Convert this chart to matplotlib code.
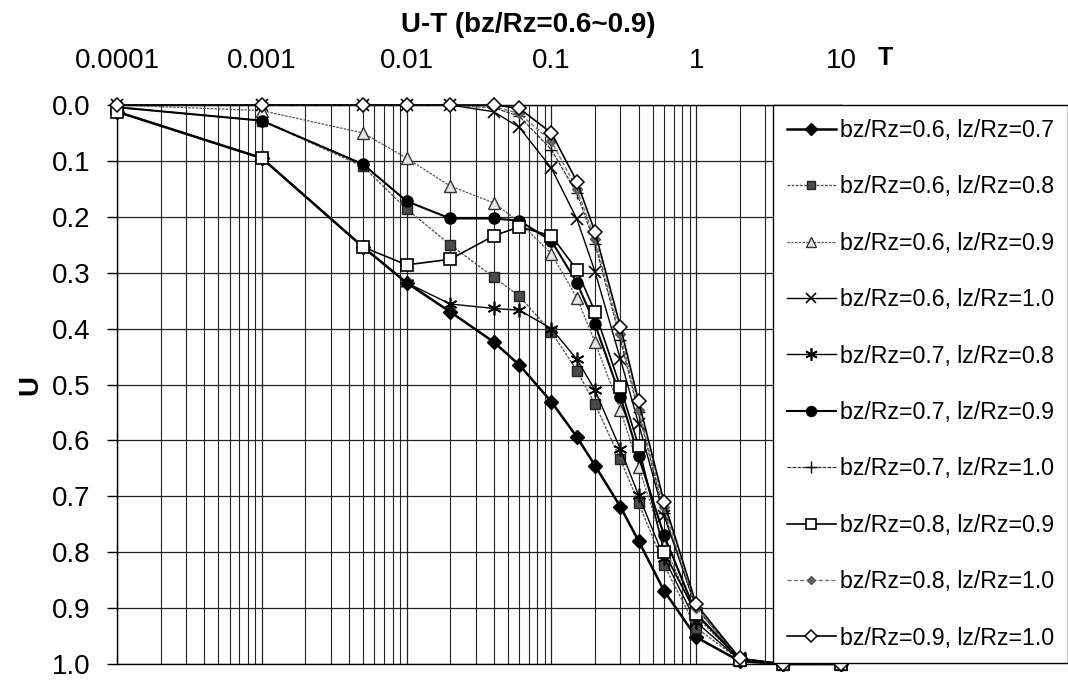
import matplotlib
matplotlib.use("Agg")
import matplotlib.pyplot as plt
from matplotlib.ticker import LogLocator, FuncFormatter, MultipleLocator, NullFormatter

plt.rcParams['font.family'] = ['Liberation Sans', 'DejaVu Sans']

# Time factor T (log axis) and degree of consolidation U for each case
T = [0.0001, 0.001, 0.005, 0.01, 0.02, 0.04, 0.06, 0.1, 0.15, 0.2,
     0.3, 0.4, 0.6, 1, 2, 4, 10]

u_b06_l07 = [0.012, 0.095, 0.254, 0.318, 0.370, 0.424, 0.465, 0.531, 0.594, 0.645,
             0.719, 0.780, 0.869, 0.952, 0.995, 1.0, 1.0]
u_b06_l08 = [0.004, 0.028, 0.110, 0.186, 0.250, 0.308, 0.342, 0.406, 0.475, 0.535,
             0.634, 0.712, 0.823, 0.935, 0.993, 1.0, 1.0]
u_b06_l09 = [0.0, 0.010, 0.050, 0.095, 0.145, 0.175, 0.210, 0.266, 0.345, 0.424,
             0.546, 0.647, 0.787, 0.915, 0.993, 1.0, 1.0]
u_b06_l10 = [0.0, 0.0, 0.0, 0.0, 0.0, 0.012, 0.040, 0.113, 0.204, 0.298,
             0.455, 0.570, 0.735, 0.900, 0.990, 1.0, 1.0]
u_b07_l08 = [0.012, 0.095, 0.254, 0.318, 0.356, 0.364, 0.367, 0.400, 0.455, 0.510,
             0.616, 0.698, 0.810, 0.925, 0.993, 1.0, 1.0]
u_b07_l09 = [0.004, 0.028, 0.106, 0.172, 0.203, 0.203, 0.207, 0.243, 0.318, 0.392,
             0.522, 0.628, 0.770, 0.910, 0.992, 1.0, 1.0]
u_b07_l10 = [0.0, 0.0, 0.0, 0.0, 0.0, 0.005, 0.020, 0.080, 0.158, 0.248,
             0.420, 0.550, 0.730, 0.900, 0.990, 1.0, 1.0]
u_b08_l09 = [0.012, 0.095, 0.254, 0.286, 0.276, 0.234, 0.218, 0.234, 0.295, 0.370,
             0.505, 0.610, 0.800, 0.910, 0.992, 1.0, 1.0]
u_b08_l10 = [0.0, 0.0, 0.0, 0.0, 0.0, 0.003, 0.015, 0.065, 0.150, 0.240,
             0.410, 0.545, 0.720, 0.900, 0.990, 1.0, 1.0]
u_b09_l10 = [0.0, 0.0, 0.0, 0.0, 0.0, 0.0, 0.006, 0.050, 0.137, 0.227,
             0.397, 0.530, 0.710, 0.893, 0.990, 1.0, 1.0]

labels = ["bz/Rz=0.6, lz/Rz=0.7", "bz/Rz=0.6, lz/Rz=0.8", "bz/Rz=0.6, lz/Rz=0.9",
          "bz/Rz=0.6, lz/Rz=1.0", "bz/Rz=0.7, lz/Rz=0.8", "bz/Rz=0.7, lz/Rz=0.9",
          "bz/Rz=0.7, lz/Rz=1.0", "bz/Rz=0.8, lz/Rz=0.9", "bz/Rz=0.8, lz/Rz=1.0",
          "bz/Rz=0.9, lz/Rz=1.0"]
series = [u_b06_l07, u_b06_l08, u_b06_l09, u_b06_l10, u_b07_l08,
          u_b07_l09, u_b07_l10, u_b08_l09, u_b08_l10, u_b09_l10]

styles = [
    dict(color='black', lw=1.8, ls='-', marker='D', ms=7, mfc='black', mec='black'),
    dict(color='#555555', lw=1.0, ls=(0, (2, 1)), marker='s', ms=7, mfc='#4a4a4a', mec='#222222'),
    dict(color='#555555', lw=0.9, ls=(0, (2, 1)), marker='^', ms=8, mfc='#e6e6e6', mec='#333333'),
    dict(color='black', lw=1.0, ls='-', marker='x', ms=8, mew=1.2, mec='black'),
    dict(color='black', lw=1.0, ls='-', marker=(6, 2, 0), ms=10, mew=1.2, mec='black'),
    dict(color='black', lw=1.5, ls='-', marker='o', ms=8, mfc='black', mec='black'),
    dict(color='#333333', lw=0.9, ls=(0, (3, 1)), marker='+', ms=9, mew=1.0, mec='black'),
    dict(color='black', lw=1.2, ls='-', marker='s', ms=8, mfc='white', mec='black', mew=1.2),
    dict(color='#777777', lw=1.0, ls=(0, (3, 1.5)), marker='D', ms=5, mfc='#666666', mec='#555555'),
    dict(color='black', lw=1.2, ls='-', marker='D', ms=7, mfc='white', mec='black', mew=1.1),
]

W, H = 1068, 681
fig = plt.figure(figsize=(W / 100, H / 100), dpi=100)
ax = fig.add_axes([117 / W, 1 - 664 / H, (841 - 117) / W, (664 - 105) / H])

for u, lab, st in zip(series, labels, styles):
    ax.plot(T, u, label=lab, clip_on=False, zorder=3, **st)

ax.set_xscale('log')
ax.set_xlim(1e-4, 10)
ax.set_ylim(1.0, 0.0)

ax.xaxis.tick_top()
ax.xaxis.set_major_locator(LogLocator(base=10, numticks=10))
ax.xaxis.set_minor_locator(LogLocator(base=10, subs=range(2, 10), numticks=100))
ax.xaxis.set_major_formatter(FuncFormatter(lambda v, p: f"{v:g}"))
ax.xaxis.set_minor_formatter(NullFormatter())
ax.yaxis.set_major_locator(MultipleLocator(0.1))
ax.yaxis.set_major_formatter(FuncFormatter(lambda v, p: f"{v:.1f}"))

ax.tick_params(axis='x', which='both', length=0, pad=22, labelsize=20)
ax.tick_params(axis='y', which='major', length=7, width=1, direction='out',
               pad=12, labelsize=20)

ax.grid(which='major', axis='both', color='#222222', lw=0.9)
ax.grid(which='minor', axis='x', color='#222222', lw=0.8)
ax.set_axisbelow(True)
for side in ['left', 'top', 'right', 'bottom']:
    ax.spines[side].set_color('black')
    ax.spines[side].set_linewidth(1.0)
ax.spines['bottom'].set_linestyle((0, (2, 1)))

fig.text(30 / W, 1 - 385 / H, 'U', ha='center', va='center', rotation=90,
         fontsize=20, fontweight='bold')
fig.text(528 / W, 1 - 25 / H, 'U-T (bz/Rz=0.6~0.9)', ha='center', va='center',
         fontsize=20, fontweight='bold')
fig.text(885 / W, 1 - 58 / H, 'T', ha='center', va='center',
         fontsize=18, fontweight='bold')

leg = ax.legend(loc='upper left', bbox_to_anchor=(773 / W, 1 - 105 / H),
                bbox_transform=fig.transFigure, borderaxespad=0,
                fontsize=16.7, frameon=True, fancybox=False, framealpha=1,
                edgecolor='black', handlelength=2.1, handletextpad=0.2,
                labelspacing=1.44, borderpad=0.6, markerscale=0.9)
leg.get_frame().set_linewidth(1.0)
leg.set_zorder(10)

fig.savefig('out.png', dpi=100)
